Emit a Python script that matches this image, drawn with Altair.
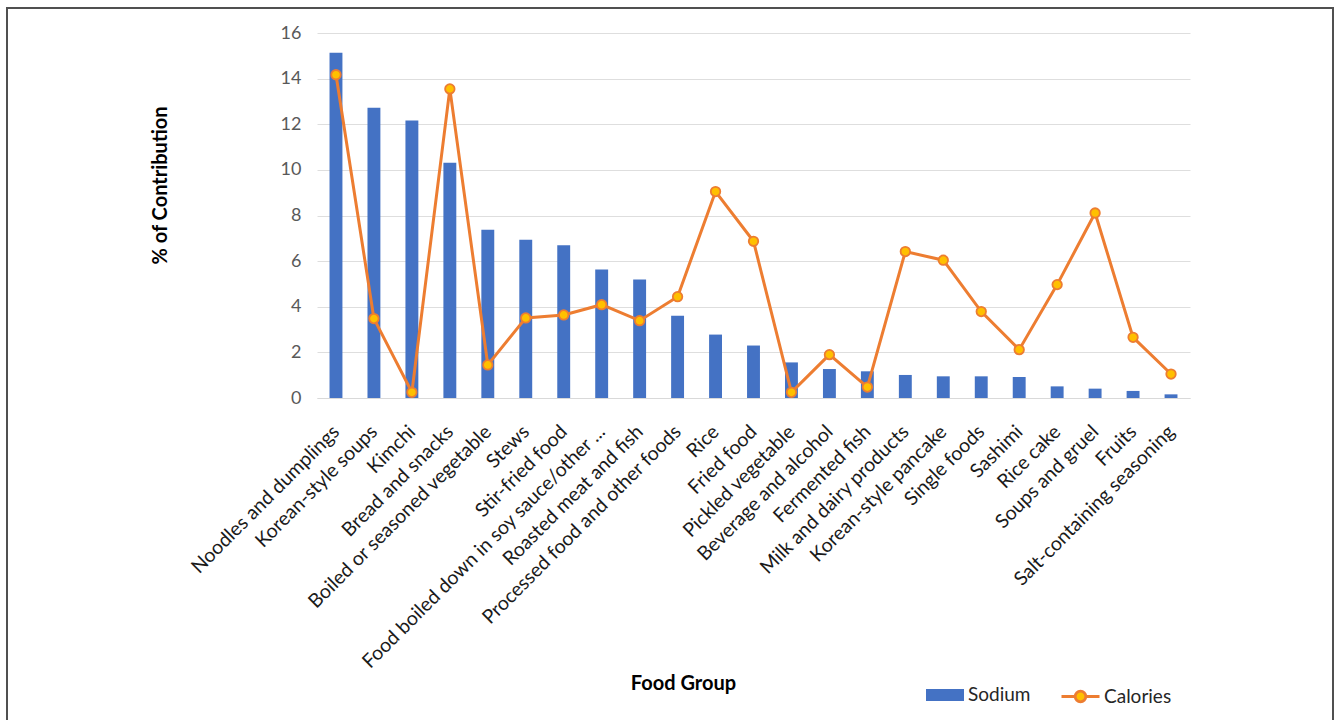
import altair as alt
import pandas as pd

categories = [
    "Noodles and dumplings", "Korean-style soups", "Kimchi", "Bread and snacks",
    "Boiled or seasoned vegetable", "Stews", "Stir-fried food",
    "Food boiled down in soy sauce/other ...", "Roasted meat and fish",
    "Processed food and other foods", "Rice", "Fried food", "Pickled vegetable",
    "Beverage and alcohol", "Fermented fish", "Milk and dairy products",
    "Korean-style pancake", "Single foods", "Sashimi", "Rice cake",
    "Soups and gruel", "Fruits", "Salt-containing seasoning",
]
sodium = [15.13, 12.72, 12.16, 10.31, 7.37, 6.94, 6.70, 5.63, 5.19, 3.61,
          2.78, 2.30, 1.56, 1.27, 1.17, 1.01, 0.95, 0.95, 0.92, 0.51, 0.41, 0.31, 0.16]
calories = [14.17, 3.48, 0.25, 13.55, 1.45, 3.51, 3.64, 4.09, 3.39, 4.44,
            9.05, 6.87, 0.25, 1.90, 0.48, 6.42, 6.04, 3.79, 2.12, 4.97, 8.11, 2.66, 1.05]
y_ticks = [0, 2, 4, 6, 8, 10, 12, 14, 16]

BLUE = "#4472C4"
ORANGE = "#ED7D31"
GOLD = "#FFC000"
FONT = "Lato"

bars_df = pd.DataFrame({"group": categories, "value": sodium, "series": "Sodium"})
line_df = pd.DataFrame({"group": categories, "value": calories, "series": "Calories"})

W, H = 873, 365

x_enc = alt.X(
    "group:N", sort=categories,
    scale=alt.Scale(paddingInner=0.66, paddingOuter=0.33),
    axis=alt.Axis(
        title="Food Group", labelAngle=-45, labelFontSize=19.5, labelColor="#1a1a1a",
        labelFont=FONT, labelPadding=24, labelOffset=-6, ticks=False, domainColor="#D9D9D9",
        titleFont=FONT, titleFontSize=20, titleFontWeight="bold", titleColor="#000000",
        titleX=366, titleY=285, titleAnchor="middle", titleBaseline="middle",
        labelLimit=400,
    ),
)
y_enc = alt.Y(
    "value:Q",
    scale=alt.Scale(domain=[0, 16], nice=False),
    axis=alt.Axis(
        title="% of Contribution", values=y_ticks, labelFontSize=18, labelColor="#595959",
        labelFont=FONT, labelPadding=16, ticks=False, domain=False,
        gridColor="#DEDEDE", gridWidth=1,
        titleFont=FONT, titleFontSize=20, titleFontWeight="bold", titleColor="#000000",
        titleX=-157, titleY=152, titleAngle=-90, titleAlign="center", titleBaseline="middle",
    ),
)

bar_legend = alt.Legend(
    title=None, orient="none", direction="horizontal", legendX=609, legendY=643,
    labelFont=FONT, labelFontSize=19, labelColor="#262626", labelOffset=4,
    symbolSize=1444, symbolType="M-1,-0.32H1V0.32H-1Z", symbolStrokeWidth=0,
    symbolOpacity=1, padding=0,
)
line_legend = alt.Legend(
    title=None, orient="none", direction="horizontal", legendX=743, legendY=643,
    labelFont=FONT, labelFontSize=19, labelColor="#262626", labelOffset=3,
    symbolSize=1444,
    symbolType="M-1,0H-0.28M0.28,0H1M-0.28,0A0.28,0.28 0 1,1 0.28,0A0.28,0.28 0 1,1 -0.28,0Z",
    symbolFillColor=GOLD, symbolStrokeWidth=2.8, symbolOpacity=1, padding=0,
)

bars = alt.Chart(bars_df).mark_bar().encode(
    x=x_enc, y=y_enc,
    fill=alt.Fill("series:N", scale=alt.Scale(domain=["Sodium"], range=[BLUE]), legend=bar_legend),
)
line = alt.Chart(line_df).mark_line(strokeWidth=3).encode(
    x=x_enc, y=y_enc,
    stroke=alt.Stroke("series:N", scale=alt.Scale(domain=["Calories"], range=[ORANGE]), legend=line_legend),
)
points = alt.Chart(line_df).mark_point(
    filled=True, fill=GOLD, stroke=ORANGE, strokeWidth=1.8, size=90, opacity=1
).encode(x=x_enc, y=y_enc)

frame = alt.Chart(pd.DataFrame({"a": [0]})).mark_rect(
    fill=None, stroke="#505050", strokeWidth=2
).encode(
    x=alt.value(7 - 317), x2=alt.value(1333 - 317),
    y=alt.value(8 - 33), y2=alt.value(760 - 33),
)

chart = alt.layer(frame, bars, line, points).properties(
    width=W, height=H,
    autosize=alt.AutoSizeParams(type="none"),
    padding={"left": 317, "top": 33, "right": 1341 - 317 - W, "bottom": 720 - 33 - H},
    background="white",
).configure_view(stroke=None).resolve_scale(fill="independent", stroke="independent")

chart.save("out.html", embed_options={"renderer": "svg", "actions": False})
